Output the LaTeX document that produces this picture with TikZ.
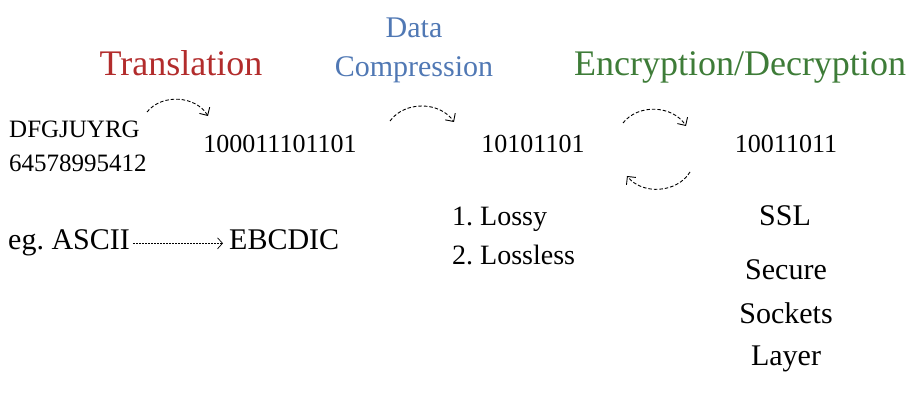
\documentclass[tikz,border=0pt]{standalone}
\usepackage{fontspec}
\setmainfont{Liberation Serif}
\usepackage{xcolor}
\usetikzlibrary{arrows.meta}
\definecolor{transred}{RGB}{178,44,44}
\definecolor{compblue}{RGB}{80,120,180}
\definecolor{cryptgreen}{RGB}{62,124,56}
\frenchspacing

\begin{document}
\begin{tikzpicture}[x=1pt, y=-1pt, inner sep=0pt, >={Straight Barb[length=6pt, width=12pt]}]
		\tikzstyle{every node}=[align=left, anchor=base]
		\tikzstyle{heading}=[font=\fontsize{36}{40}\selectfont]
		\tikzstyle{bits}=[font=\fontsize{26}{30}\selectfont]
		\tikzstyle{note}=[font=\fontsize{30}{43}\selectfont]
		\tikzstyle{hop}=[line width=0.9pt, dash pattern=on 3.5pt off 2pt, ->]
			\useasboundingbox (0, 0) rectangle (913, 403);

			% headings
			\node[heading, text=transred] (translation) at (181, 76) {Translation};
			\node[heading, text=compblue, align=center, font=\fontsize{30}{39}\selectfont] (compression) at (414, 77) {Data\\Compression};
			\node[heading, text=cryptgreen] (encryption) at (740, 76) {Encryption/Decryption};

			% data at each step
			\node[font=\fontsize{25}{34}\selectfont, anchor=base west] (plain) at (9, 172) {DFGJUYRG\\64578995412};
			\node[bits] (binary) at (280, 153) {100011101101};
			\node[bits] (compressed) at (533, 153) {10101101};
			\node[bits] (encrypted) at (786, 153) {10011011};

			% examples
			\node[note, anchor=base west] (ascii) at (8, 250) {eg. ASCII};
			\node[note, anchor=base west] (ebcdic) at (229, 250) {EBCDIC};
			\node[font=\fontsize{28}{39}\selectfont, anchor=base west] (lossy) at (452, 265) {1. Lossy\\2. Lossless};
			\node[note] (ssl) at (785, 226) {SSL};
			\node[note, align=center] (sockets) at (786, 366) {Secure\\Sockets\\Layer};

			\draw[hop, line width=0.7pt, dash pattern=on 2pt off 1pt, >={Straight Barb[length=5pt, width=11pt]}] ([xshift=3pt] ascii.east) -- ([xshift=-6pt] ebcdic.west |- ascii.east);

			% step arrows
			\coordinate (t1) at (147, 112); \coordinate (t2) at (208, 116);
			\coordinate (c1) at (390, 121); \coordinate (c2) at (454, 122);
			\coordinate (e1) at (623, 123); \coordinate (e2) at (686, 126);
			\coordinate (d1) at (690, 172); \coordinate (d2) at (627, 176);
			\draw[hop] (t1) to[bend left=55] (t2);
			\draw[hop] (c1) to[bend left=55] (c2);
			\draw[hop] (e1) to[bend left=55] (e2);
			\draw[hop] (d1) to[bend left=55] (d2);
		\end{tikzpicture}
\end{document}
